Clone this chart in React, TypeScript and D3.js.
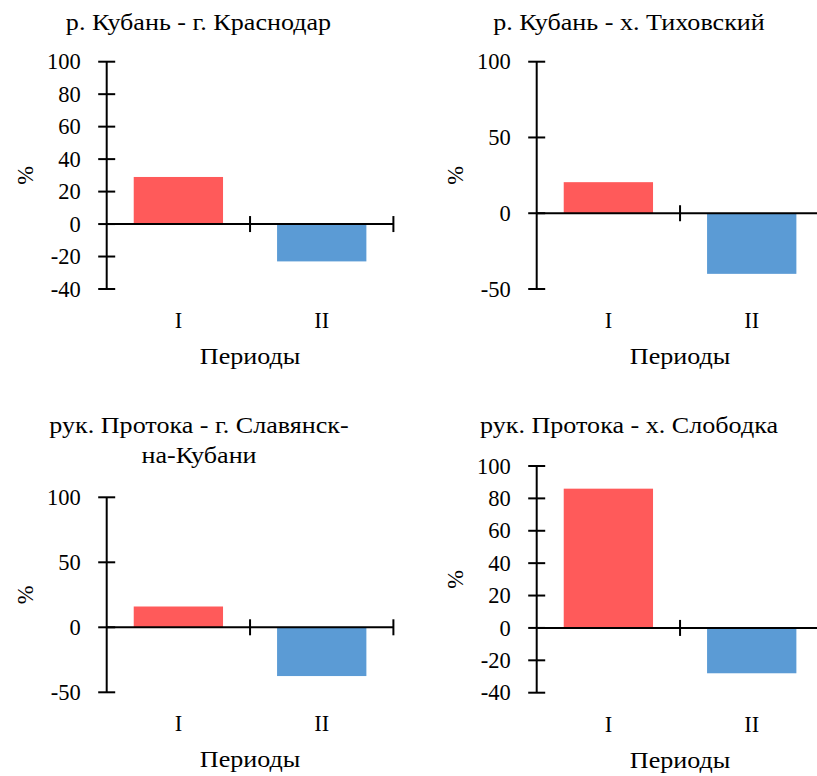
import React from "react";
import * as d3 from "d3";

const categories = ["I", "II"];
const titles = [
  ["р. Кубань - г. Краснодар"],
  ["р. Кубань - х. Тиховский"],
  ["рук. Протока - г. Славянск-", "на-Кубани"],
  ["рук. Протока - х. Слободка"],
];
const periodI = [29, 20.5, 16, 86];
const periodII = [-23, -40, -37.5, -28];
const yDomains: [number, number][] = [[-40, 100], [-50, 100], [-50, 100], [-40, 100]];
const yTicks = [
  [-40, -20, 0, 20, 40, 60, 80, 100],
  [-50, 0, 50, 100],
  [-50, 0, 50, 100],
  [-40, -20, 0, 20, 40, 60, 80, 100],
];
const yLabel = "%";
const xLabel = "Периоды";
const colors = ["#FF5A5A", "#5B9BD5"];

// layout for each panel: axis x, top pixel, bottom pixel, title center x, title baseline
const layouts = [
  { ax: 106.7, top: 61.7, bot: 289, tx: 198.5, ty: 29.5 },
  { ax: 536.7, top: 61.7, bot: 289, tx: 629, ty: 29.5 },
  { ax: 106.7, top: 497.3, bot: 692.3, tx: 199, ty: 433 },
  { ax: 536.7, top: 466, bot: 692.7, tx: 629, ty: 433 },
];

const FONT = "'Liberation Serif', 'Times New Roman', serif";
const FS = 22.5;
const ts = { fontFamily: FONT, fontSize: FS };
const SX = 1.16; // horizontal widening of the Cyrillic labels

function WideText({ x, y, children }: { x: number; y: number; children: React.ReactNode }) {
  return (
    <text transform={`translate(${x},${y}) scale(${SX},1)`} textAnchor="middle" style={ts} fill="#000">
      {children}
    </text>
  );
}

function Panel({ i }: { i: number }) {
  const L = layouts[i];
  const y = d3.scaleLinear().domain(yDomains[i]).range([L.bot, L.top]);
  const x = d3
    .scaleBand<string>()
    .domain(categories)
    .range([L.ax, L.ax + 286.7])
    .paddingInner(0.377)
    .paddingOuter(0.1885);
  const step = x.step();
  const vals = [periodI[i], periodII[i]];
  const y0 = y(0);
  const mid = (L.top + L.bot) / 2;
  return (
    <g>
      {titles[i].map((t, k) => (
        <WideText key={k} x={L.tx} y={L.ty + k * 29.5}>
          {t}
        </WideText>
      ))}
      {vals.map((v, k) => (
        <rect
          key={k}
          x={x(categories[k])!}
          width={x.bandwidth()}
          y={Math.min(y(v), y0)}
          height={Math.abs(y(v) - y0)}
          fill={colors[k]}
        />
      ))}
      <line x1={L.ax} x2={L.ax} y1={L.top} y2={L.bot} stroke="#000" strokeWidth={2} />
      {yTicks[i].map((t) => (
        <g key={t}>
          <line x1={L.ax - 8.5} x2={L.ax + 8.5} y1={y(t)} y2={y(t)} stroke="#000" strokeWidth={2} />
          <text x={L.ax - 26} y={y(t)} dy="0.34em" textAnchor="end" style={ts} fill="#000">
            {t}
          </text>
        </g>
      ))}
      <line x1={L.ax} x2={L.ax + step * 2} y1={y0} y2={y0} stroke="#000" strokeWidth={2} />
      {[1, 2].map((k) => (
        <line key={k} x1={L.ax + step * k} x2={L.ax + step * k} y1={y0 - 8} y2={y0 + 8} stroke="#000" strokeWidth={2} />
      ))}
      {categories.map((c) => (
        <text key={c} x={x(c)! + x.bandwidth() / 2} y={L.bot + 39} textAnchor="middle" style={ts} fill="#000">
          {c}
        </text>
      ))}
      <WideText x={L.ax + step} y={L.bot + 75}>
        {xLabel}
      </WideText>
      <text
        transform={`translate(${L.ax - 81.7},${mid}) rotate(-90)`}
        textAnchor="middle"
        dy="0.34em"
        style={ts}
        fill="#000"
      >
        {yLabel}
      </text>
    </g>
  );
}

export default function App() {
  return (
    <svg width={817} height={776} style={{ position: "absolute", left: 0, top: 0, background: "#fff" }}>
      <rect width={817} height={776} fill="#fff" />
      {layouts.map((_, i) => (
        <Panel key={i} i={i} />
      ))}
    </svg>
  );
}
